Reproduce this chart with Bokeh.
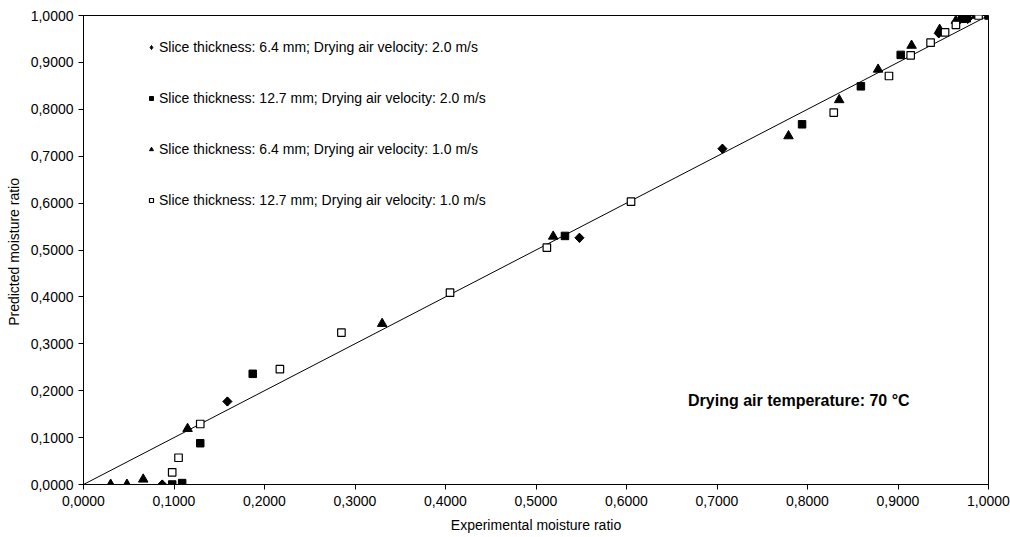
import math
from bokeh.plotting import figure
from bokeh.models import Legend, LegendItem, FixedTicker, Label
from bokeh.embed import file_html
from bokeh.resources import INLINE

# Data
dia_x = [0.087, 0.159, 0.548, 0.706, 0.945, 0.977]
dia_y = [0.000, 0.177, 0.526, 0.716, 0.962, 0.993]

sq_x = [0.098, 0.109, 0.129, 0.187, 0.532, 0.794, 0.859, 0.903, 0.971, 0.976, 1.000]
sq_y = [0.000, 0.003, 0.088, 0.236, 0.530, 0.768, 0.849, 0.916, 0.993, 0.994, 1.000]

tri_x = [0.030, 0.048, 0.066, 0.115, 0.330, 0.519, 0.779, 0.835, 0.878, 0.915, 0.946, 0.964, 0.986]
tri_y = [0.000, 0.000, 0.011, 0.119, 0.343, 0.529, 0.743, 0.820, 0.885, 0.936, 0.970, 0.989, 1.000]

osq_x = [0.098, 0.105, 0.129, 0.217, 0.285, 0.405, 0.512, 0.605, 0.829, 0.890, 0.914, 0.936, 0.952, 0.964, 0.989]
osq_y = [0.026, 0.057, 0.129, 0.246, 0.324, 0.409, 0.505, 0.603, 0.793, 0.871, 0.915, 0.942, 0.964, 0.980, 1.000]

fit_x = [0.0, 1.0]
fit_y = [0.0, 1.0]

ticks = [i / 10 for i in range(11)]
tick_labels = {t: f"{t:.4f}".replace(".", ",") for t in ticks}

series_labels = [
    "Slice thickness: 6.4 mm; Drying air velocity: 2.0 m/s",
    "Slice thickness: 12.7 mm; Drying air velocity: 2.0 m/s",
    "Slice thickness: 6.4 mm; Drying air velocity: 1.0 m/s",
    "Slice thickness: 12.7 mm; Drying air velocity: 1.0 m/s",
]
x_title = "Experimental moisture ratio"
y_title = "Predicted  moisture ratio"
note = "Drying air temperature: 70 °C"

FONT = "Liberation Sans"

p = figure(width=1010, height=537, output_backend="svg", toolbar_location=None,
           x_range=(0, 1), y_range=(0, 1),
           min_border_left=83, min_border_right=22, min_border_top=15, min_border_bottom=53)
p.background_fill_color = "white"
p.border_fill_color = "white"
p.outline_line_color = "black"
p.outline_line_width = 1
p.grid.visible = False

for ax in (p.xaxis[0], p.yaxis[0]):
    ax.ticker = FixedTicker(ticks=ticks)
    ax.major_label_overrides = tick_labels
    ax.minor_tick_line_color = None
    ax.major_tick_in = 0
    ax.major_tick_out = 5
    ax.axis_line_color = "black"
    ax.major_tick_line_color = "black"
    ax.major_label_text_font = FONT
    ax.major_label_text_font_size = "14px"
    ax.major_label_text_color = "black"
    ax.axis_label_text_font = FONT
    ax.axis_label_text_font_size = "14px"
    ax.axis_label_text_font_style = "normal"
    ax.axis_label_text_color = "black"

p.xaxis.axis_label = x_title
p.yaxis.axis_label = y_title
p.xaxis.major_label_standoff = 6
p.yaxis.major_label_standoff = 5
p.xaxis.axis_label_standoff = 8
p.yaxis.axis_label_standoff = 6

p.line(fit_x, fit_y, line_color="black", line_width=1)

# legend swatch for the diamond series (hidden beneath the rotated squares)
r1_key = p.scatter(dia_x, dia_y, marker="diamond", size=9,
                   fill_color="black", line_color="black")
# diamonds drawn as squares rotated by 45 degrees (Excel-style diamond)
r1 = p.scatter(dia_x, dia_y, marker="square", angle=math.pi / 4, size=6.5,
               fill_color="black", line_color="black")
r2 = p.scatter(sq_x, sq_y, marker="square", size=7.5,
               fill_color="black", line_color="black")
r3 = p.scatter(tri_x, tri_y, marker="triangle", size=9.5,
               fill_color="black", line_color="black")
r4 = p.scatter(osq_x, osq_y, marker="square", size=7.5,
               fill_color="white", line_color="black", line_width=1.2)

legend = Legend(items=[LegendItem(label=series_labels[i], renderers=[r])
                       for i, r in enumerate([r1_key, r2, r3, r4])],
                location=(63, 274), orientation="vertical",
                border_line_color=None, background_fill_alpha=0,
                padding=0, margin=0, spacing=31,
                glyph_width=10, glyph_height=20, label_height=20,
                label_standoff=3,
                label_text_font=FONT, label_text_font_size="14px",
                label_text_color="black")
p.add_layout(legend, "center")

p.add_layout(Label(x=0.668, y=0.179, text=note, text_font=FONT,
                   text_font_size="16px", text_font_style="bold",
                   text_color="black", text_baseline="alphabetic"))

open("out.html", "w").write(file_html(p, INLINE))
